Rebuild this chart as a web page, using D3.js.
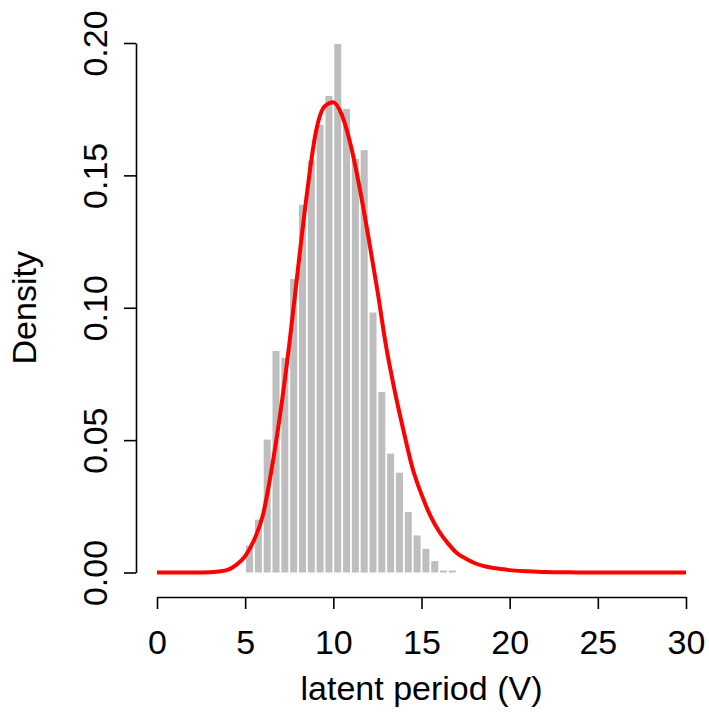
<!DOCTYPE html>
<html>
<head>
<meta charset="utf-8">
<script src="https://cdn.jsdelivr.net/npm/d3@7"></script>
<style>
  html, body { margin: 0; padding: 0; background: #ffffff; }
  svg { display: block; }
  text { font-family: "Liberation Sans", Arial, Helvetica, sans-serif; fill: #000; }
</style>
</head>
<body>
<svg id="chart" width="709" height="722"></svg>
<script>
// Histogram bin edges (latent period, V) and density heights
const binEdges = [5, 5.5, 6, 6.5, 7, 7.5, 8, 8.5, 9, 9.5, 10, 10.5, 11, 11.5,
                  12, 12.5, 13, 13.5, 14, 14.5, 15, 15.5, 16, 16.5, 17];
const binDensity = [0.0102, 0.0200, 0.0502, 0.0837, 0.0811, 0.1109, 0.1389, 0.1556,
                    0.1691, 0.1800, 0.1996, 0.1751, 0.1562, 0.1595, 0.0982, 0.0682,
                    0.0449, 0.0377, 0.0229, 0.0140, 0.0089, 0.0043, 0.0005, 0.0005];

// Fitted density curve, sampled along V
const curveX = [0, 1, 2, 3, 3.5, 4, 4.5, 5, 5.5, 6, 6.5, 7, 7.5, 8, 8.5, 9, 9.5, 10,
                10.5, 11, 11.5, 12, 12.5, 13, 13.5, 14, 14.5, 15, 15.5, 16, 16.5, 17,
                17.5, 18, 18.5, 19, 19.5, 20, 21, 22, 23, 24, 25, 30];
const curveY = [0, 0, 0, 0.0001, 0.0004, 0.0010, 0.0029, 0.0062, 0.0122, 0.0215, 0.0390,
                0.0605, 0.0860, 0.1150, 0.1430, 0.1660, 0.1760, 0.1776, 0.1725, 0.1610,
                0.1450, 0.1263, 0.1065, 0.0851, 0.0680, 0.0530, 0.0392, 0.0295, 0.0215,
                0.0155, 0.0110, 0.0074, 0.0053, 0.0036, 0.0025, 0.0018, 0.0013, 0.0009,
                0.0005, 0.0002, 0.0001, 0, 0, 0];

// Axis ticks
const xTicks = [0, 5, 10, 15, 20, 25, 30];
const yTicks = [0.00, 0.05, 0.10, 0.15, 0.20];

const svg = d3.select("#chart");

const x = d3.scaleLinear().domain([0, 30]).range([157, 686]);
const y = d3.scaleLinear().domain([0, 0.2]).range([572.5, 43]);

// Histogram bars, separated by a thin white gap
const gap = 1.8;
const bins = binDensity.map((d, i) => ({ x0: binEdges[i], x1: binEdges[i + 1], d }));
svg.append("g")
  .selectAll("rect")
  .data(bins)
  .join("rect")
  .attr("x", b => x(b.x0) + gap / 2)
  .attr("y", b => y(b.d) - (b.d < 0.001 ? 0.6 : 0))
  .attr("width", b => x(b.x1) - x(b.x0) - gap)
  .attr("height", b => y(0) - y(b.d) + (b.d < 0.001 ? 0.6 : 0))
  .attr("fill", "#bebebe");

// Density curve
const pts = curveX.map((v, i) => [v, curveY[i]]);
svg.append("path")
  .datum(pts)
  .attr("fill", "none")
  .attr("stroke", "#ff0000")
  .attr("stroke-width", 4)
  .attr("stroke-linejoin", "round")
  .attr("d", d3.line().x(p => x(p[0])).y(p => y(p[1])).curve(d3.curveMonotoneX));

// X axis
const xAxis = svg.append("g")
  .attr("transform", "translate(0,597)")
  .call(d3.axisBottom(x).tickValues(xTicks).tickSize(12).tickSizeOuter(0).tickPadding(0).tickFormat(d3.format("d")));
xAxis.select(".domain").attr("stroke", "#000").attr("stroke-width", 1.6);
xAxis.selectAll(".tick line").attr("stroke", "#000").attr("stroke-width", 1.6);
xAxis.selectAll(".tick text")
  .attr("y", 57)
  .attr("dy", null)
  .style("font-size", "34px")
  .style("font-family", "'Liberation Sans', Arial, Helvetica, sans-serif")
  .attr("fill", "#000");

// Y axis
const yAxis = svg.append("g")
  .attr("transform", "translate(136,0)")
  .call(d3.axisLeft(y).tickValues(yTicks).tickSize(12).tickSizeOuter(0).tickFormat(d3.format(".2f")));
yAxis.select(".domain").attr("stroke", "#000").attr("stroke-width", 1.6);
yAxis.selectAll(".tick line").attr("stroke", "#000").attr("stroke-width", 1.6);
yAxis.selectAll(".tick text")
  .attr("x", null)
  .attr("dy", null)
  .attr("transform", "translate(-29,0) rotate(-90)")
  .attr("text-anchor", "middle")
  .style("font-size", "34px")
  .style("font-family", "'Liberation Sans', Arial, Helvetica, sans-serif")
  .attr("fill", "#000");

// Axis titles
svg.append("text")
  .attr("x", (x(0) + x(30)) / 2)
  .attr("y", 700)
  .attr("text-anchor", "middle")
  .style("font-size", "34px")
  .text("latent period (V)");

svg.append("text")
  .attr("transform", `translate(36,${(y(0) + y(0.2)) / 2}) rotate(-90)`)
  .attr("text-anchor", "middle")
  .style("font-size", "34px")
  .text("Density");
</script>
</body>
</html>
